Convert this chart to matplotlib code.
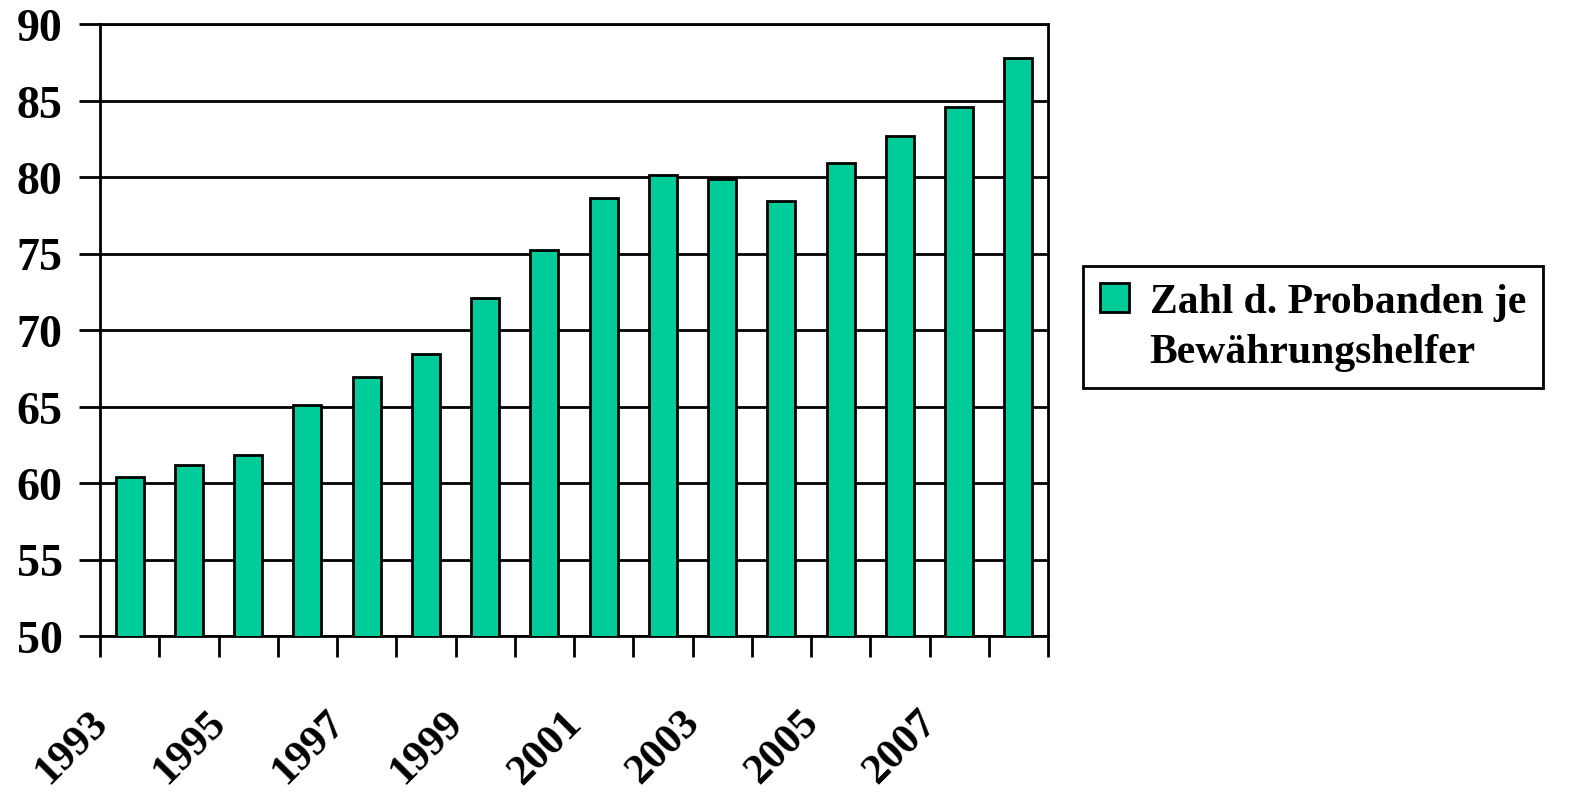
import numpy as np
import matplotlib
matplotlib.use('Agg')
import matplotlib.pyplot as plt
import matplotlib.transforms as mtransforms
from matplotlib.patches import Patch

# data
years = list(range(1993, 2009))
values = [60.4, 61.2, 61.8, 65.1, 66.9, 68.4, 72.1, 75.2,
          78.6, 80.1, 79.9, 78.4, 80.9, 82.7, 84.6, 87.8]
label_years = [str(y) if (y - 1993) % 2 == 0 else '' for y in years]
legend_lines = ['Zahl d. Probanden je', 'Bewährungshelfer']

bar_color = '#00CC99'
font = 'Liberation Serif'

plt.rcParams['font.family'] = [font, 'DejaVu Serif']
plt.rcParams['font.weight'] = 'bold'

fig = plt.figure(figsize=(15.94, 8.04), dpi=100)
ax = fig.add_axes([100 / 1594, 1 - 637 / 804, 948 / 1594, 612 / 804])

x = np.arange(len(years))
bars = ax.bar(x, values, width=0.47, color=bar_color, edgecolor='black',
              linewidth=2, zorder=3)

ax.set_xlim(-0.5, len(years) - 0.5)
ax.set_ylim(50, 90)
ax.set_yticks(np.arange(50, 91, 5))
ax.yaxis.grid(True, color='black', linewidth=2, zorder=0)
ax.tick_params(axis='y', length=15, width=2, direction='out', labelsize=33, pad=12)

# tick marks at category boundaries, labels at centres
ax.set_xticks(np.arange(-0.5, len(years), 1.0))
ax.set_xticklabels([])
ax.tick_params(axis='x', which='major', length=15, width=2, direction='out')
ax.set_xticks(x, label_years, minor=True)
ax.tick_params(axis='x', which='minor', length=0, labelsize=31, pad=0)
offset = mtransforms.ScaledTranslation(-20 / 72, -58 / 72, fig.dpi_scale_trans)
for lab in ax.get_xticklabels(minor=True):
    lab.set_rotation(45)
    lab.set_ha('right')
    lab.set_va('center')
    lab.set_rotation_mode('anchor')
    lab.set_transform(lab.get_transform() + offset)

for s in ax.spines.values():
    s.set_linewidth(2)
    s.set_color('black')

handles = [Patch(facecolor=bar_color, edgecolor='black', linewidth=2),
           Patch(facecolor='none', edgecolor='none')]
leg = ax.legend(handles, legend_lines, loc='upper left',
                bbox_to_anchor=(1083 / 1594, 1 - 267 / 804),
                bbox_transform=fig.transFigure, fontsize=30, frameon=True,
                fancybox=False, framealpha=1, handlelength=0.7, handleheight=0.7,
                handletextpad=0.5, borderpad=0.4, labelspacing=0.3,
                borderaxespad=0)
leg.get_frame().set_edgecolor('black')
leg.get_frame().set_linewidth(2)

fig.savefig('out.png', dpi=100)
